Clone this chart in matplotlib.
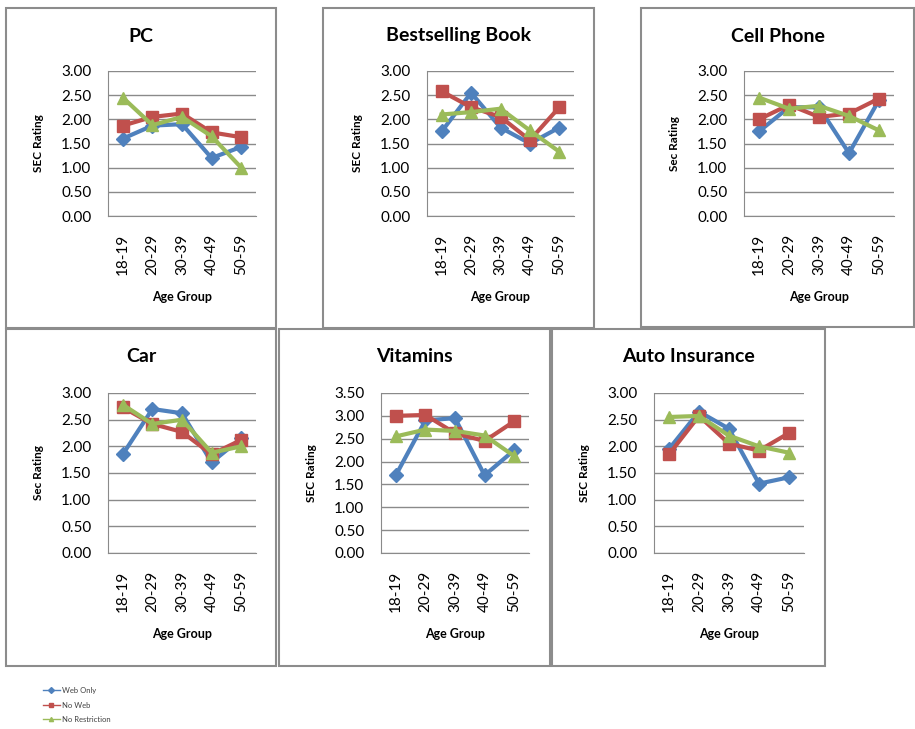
import matplotlib.pyplot as plt
from matplotlib.patches import Rectangle
from matplotlib.ticker import FormatStrFormatter, MultipleLocator

plt.rcParams['font.family'] = ['Lato', 'DejaVu Sans']

W, H = 915, 729

age_groups = ['18-19', '20-29', '30-39', '40-49', '50-59']
series_names = ['Web Only', 'No Web', 'No Restriction']

# SEC rating per age group
pc_web_only = [1.60, 1.87, 1.90, 1.20, 1.43]
pc_no_web = [1.87, 2.05, 2.12, 1.73, 1.63]
pc_no_restriction = [2.45, 1.88, 2.05, 1.65, 1.00]

book_web_only = [1.75, 2.55, 1.83, 1.50, 1.83]
book_no_web = [2.58, 2.25, 2.05, 1.57, 2.25]
book_no_restriction = [2.10, 2.15, 2.22, 1.77, 1.33]

phone_web_only = [1.75, 2.25, 2.25, 1.30, 2.40]
phone_no_web = [2.00, 2.30, 2.05, 2.12, 2.43]
phone_no_restriction = [2.45, 2.22, 2.28, 2.07, 1.77]

car_web_only = [1.85, 2.70, 2.62, 1.70, 2.15]
car_no_web = [2.73, 2.42, 2.27, 1.85, 2.12]
car_no_restriction = [2.78, 2.42, 2.50, 1.88, 2.00]

vitamins_web_only = [1.70, 2.90, 2.95, 1.70, 2.25]
vitamins_no_web = [3.00, 3.02, 2.62, 2.45, 2.88]
vitamins_no_restriction = [2.55, 2.70, 2.67, 2.57, 2.12]

auto_web_only = [1.95, 2.65, 2.33, 1.30, 1.42]
auto_no_web = [1.85, 2.57, 2.05, 1.92, 2.25]
auto_no_restriction = [2.55, 2.57, 2.20, 2.00, 1.88]

colors = ['#4F81BD', '#C0504D', '#9BBB59']
markers = ['D', 's', '^']
msizes = [7, 9, 9]
grid_col = '#8a8a8a'


def fig_rect(x0, y0, x1, y1):
    return [x0 / W, 1 - y1 / H, (x1 - x0) / W, (y1 - y0) / H]


# (box px, axes px, title, ylabel, ymax, series)
panels = [
    ((6, 8, 276, 328), (108, 71, 256, 216), 'PC', 'SEC Rating', 3.0,
     [pc_web_only, pc_no_web, pc_no_restriction]),
    ((323, 8, 594, 328), (427, 71, 574, 216), 'Bestselling Book', 'SEC Rating', 3.0,
     [book_web_only, book_no_web, book_no_restriction]),
    ((641, 8, 914, 327), (744, 71, 894, 216), 'Cell Phone', 'Sec Rating', 3.0,
     [phone_web_only, phone_no_web, phone_no_restriction]),
    ((6, 329, 276, 666), (108, 393, 256, 553), 'Car', 'Sec Rating', 3.0,
     [car_web_only, car_no_web, car_no_restriction]),
    ((279, 329, 550, 666), (381, 393, 529, 553), 'Vitamins', 'SEC Rating', 3.5,
     [vitamins_web_only, vitamins_no_web, vitamins_no_restriction]),
    ((552, 329, 825, 666), (654, 393, 804, 553), 'Auto Insurance', 'SEC Rating', 3.0,
     [auto_web_only, auto_no_web, auto_no_restriction]),
]

fig = plt.figure(figsize=(9.15, 7.29), dpi=100)

for box, area, title, ylabel, ymax, series in panels:
    top_row = box[1] < 100
    # panel frame
    bx = fig_rect(*box)
    fig.patches.append(Rectangle((bx[0], bx[1]), bx[2], bx[3], transform=fig.transFigure,
                                 fill=False, edgecolor='#8c8c8c', linewidth=1.5))
    fig.text((box[0] + box[2]) / 2 / W, 1 - (box[1] + 28) / H, title,
             ha='center', va='center', fontsize=14, fontweight='bold')

    ax = fig.add_axes(fig_rect(*area))
    x = range(len(age_groups))
    for vals, c, m, ms, name in zip(series, colors, markers, msizes, series_names):
        ax.plot(x, vals, color=c, marker=m, markersize=ms, linewidth=3, label=name)

    ax.set_xlim(-0.5, len(age_groups) - 0.5)
    ax.set_ylim(0, ymax)
    ax.yaxis.set_major_locator(MultipleLocator(0.5))
    ax.yaxis.set_major_formatter(FormatStrFormatter('%.2f'))
    ax.set_xticks(list(x))
    ax.set_xticklabels(age_groups, rotation=90)
    ax.tick_params(axis='y', length=0, pad=12, labelsize=11)
    ax.tick_params(axis='x', length=0, pad=13, labelsize=11)
    ax.grid(axis='y', color=grid_col, linewidth=1)
    ax.set_axisbelow(True)
    for side in ['top', 'right']:
        ax.spines[side].set_visible(False)
    for side in ['left', 'bottom']:
        ax.spines[side].set_color(grid_col)

    w_ax = area[2] - area[0]
    h_ax = area[3] - area[1]
    ax.set_ylabel(ylabel, fontsize=8.5, fontweight='bold')
    ax.yaxis.set_label_coords(-64 / w_ax, 0.5)
    ax.set_xlabel('Age Group', fontsize=9, fontweight='bold')
    xlab_top = 291 if top_row else 628
    ax.xaxis.set_label_coords(0.5, (area[3] - xlab_top) / h_ax)

leg_handles = []
for c, m in zip(colors, markers):
    line, = plt.plot([], [], color=c, marker=m, markersize=3, linewidth=1)
    leg_handles.append(line)
fig.legend(leg_handles, series_names, loc='upper left', bbox_to_anchor=(36 / W, 1 - 680 / H),
           fontsize=5.5, frameon=False, handlelength=2.2, handletextpad=0.3,
           labelspacing=1.0, labelcolor='#404040')

fig.savefig('out.png', dpi=100)
